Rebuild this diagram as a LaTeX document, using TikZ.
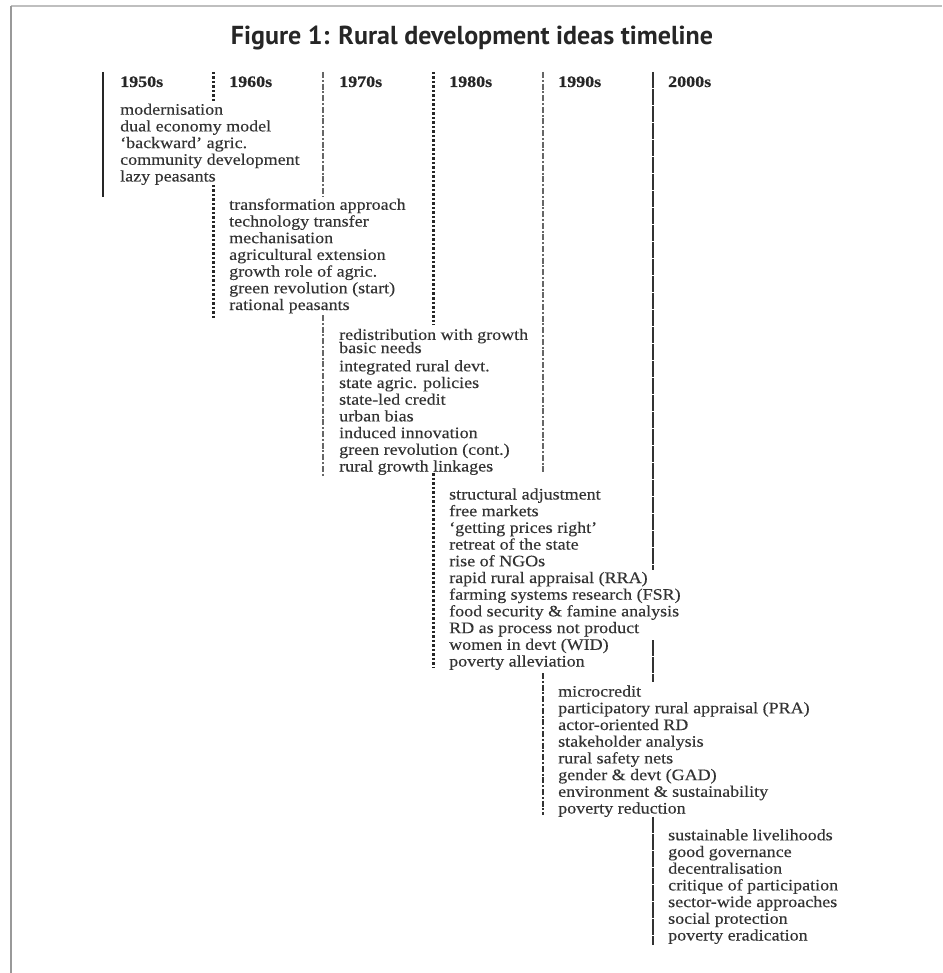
\documentclass[tikz,border=0pt]{standalone}
\usepackage{fontspec}
\setmainfont{Liberation Serif}[FakeStretch=1.125, FakeBold=0.3]
\newfontfamily\titlefont{PT Sans}
\usetikzlibrary{positioning}

\begin{document}
\begin{tikzpicture}[x=1pt, y=-1pt,
		frame/.style={line width=1.2pt, black!25},
		era/.style={anchor=base west, inner sep=0pt, text=black!85, font=\bfseries\fontsize{16}{16.7}\selectfont},
		ideas/.style={anchor=base west, inner sep=0pt, align=left, text=black!80, font=\fontsize{16}{16.7}\selectfont},
		solidbar/.style={line width=2.6pt, black!85},
		dotbar/.style={line width=3pt, black!85, dash pattern=on 2.5pt off 2pt},
		dashdotbar/.style={line width=2.2pt, black!60, dash pattern=on 6pt off 1.8pt on 2pt off 1.8pt},
		longdashbar/.style={line width=2.4pt, black!80, dash pattern=on 16pt off 1pt},
	]
		\useasboundingbox (0,0) rectangle (942,973);
		\draw[frame] (11,6) -- (942,6);
		\draw[frame, black!40] (11,6) -- (11,973);

		\node[font=\titlefont\bfseries\fontsize{26}{30}\selectfont, text=black!85] (title) at (472,38) {Figure 1: Rural development ideas timeline};

		\foreach \yr/\x in {1950s/120, 1960s/229, 1970s/339, 1980s/449, 1990s/558, 2000s/668}
			\node[era] (h\yr) at (\x,87) {\yr};

		\draw[solidbar] (103,72) -- (103,197);
		\draw[dotbar] (213,72) -- (213,103);
		\draw[dotbar] (213,185) -- (213,318);
		\draw[dashdotbar] (323,72) -- (323,197);
		\draw[dashdotbar] (323,315) -- (323,476);
		\draw[dotbar] (433,72) -- (433,325);
		\draw[dotbar] (433,473) -- (433,668);
		\draw[dashdotbar] (543,72) -- (543,473);
		\draw[dashdotbar, black!80] (543,673) -- (543,815);
		\draw[longdashbar] (653,72) -- (653,570);
		\draw[longdashbar] (653,640) -- (653,682);
		\draw[longdashbar] (653,817) -- (653,945);

		\node[ideas] (l1950s) at (120,181.5) {modernisation\\dual economy model\\`backward' agric.\\community development\\lazy peasants};
		\node[ideas] (l1960s) at (229,310) {transformation approach\\technology transfer\\mechanisation\\agricultural extension\\growth role of agric.\\green revolution (start)\\rational peasants};
		\node[ideas] (l1970s) at (339,471.5) {redistribution with growth\\[-3.5pt]basic needs\\[1.5pt]integrated rural devt.\\state agric. policies\\state-led credit\\urban bias\\induced innovation\\green revolution (cont.)\\rural growth linkages};
		\node[ideas] (l1980s) at (449,666.5) {structural adjustment\\free markets\\`getting prices right'\\retreat of the state\\rise of NGOs\\rapid rural appraisal (RRA)\\farming systems research (FSR)\\food security \& famine analysis\\RD as process not product\\women in devt (WID)\\poverty alleviation};
		\node[ideas] (l1990s) at (558,813.5) {microcredit\\participatory rural appraisal (PRA)\\actor-oriented RD\\stakeholder analysis\\rural safety nets\\gender \& devt (GAD)\\environment \& sustainability\\poverty reduction};
		\node[ideas] (l2000s) at (668,940.5) {sustainable livelihoods\\good governance\\decentralisation\\critique of participation\\sector-wide approaches\\social protection\\poverty eradication};
	\end{tikzpicture}
\end{document}
